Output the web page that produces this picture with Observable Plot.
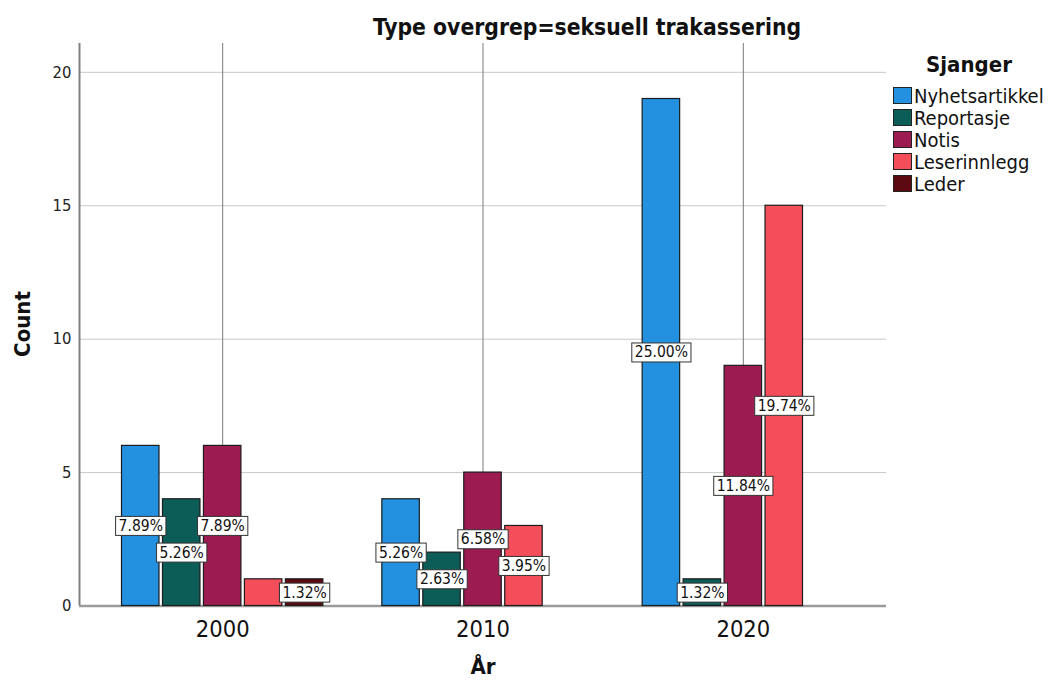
<!DOCTYPE html>
<html>
<head>
<meta charset="utf-8">
<script src="https://cdn.jsdelivr.net/npm/d3@7"></script>
<script src="https://cdn.jsdelivr.net/npm/@observablehq/plot@0.6"></script>
<style>
  html, body { margin: 0; padding: 0; background: #fff; }
  body { width: 1048px; height: 682px; overflow: hidden; position: relative;
         font-family: "DejaVu Sans Condensed", "DejaVu Sans", sans-serif; font-stretch: condensed; color: #111; }
  #chart { position: absolute; left: 0; top: 0; width: 1048px; height: 682px; }
  #chart svg { position: absolute; left: 0; top: 0; }
  .abs { position: absolute; white-space: nowrap; }
  .bold { font-weight: bold; }
  .sw { position: absolute; width: 17px; height: 15px; border: 1px solid #222; }
</style>
</head>
<body>
<div id="chart"></div>
<div class="abs bold" id="title" style="left:587px; top:14px; font-size:22.7px; transform:translateX(-50%);">Type overgrep=seksuell trakassering</div>
<div class="abs bold" id="ylab" style="left:22px; top:324px; font-size:22px; transform:translate(-50%,-50%) rotate(-90deg);">Count</div>
<div class="abs bold" id="xlab" style="left:483px; top:666px; font-size:22px; transform:translate(-50%,-50%);">År</div>
<div id="legend"></div>
<script>
// ---- data ----
const years = [2000, 2010, 2020];
const genres = ["Nyhetsartikkel", "Reportasje", "Notis", "Leserinnlegg", "Leder"];
const genreColors = ["#2390e0", "#0c5c58", "#9c1b50", "#f34e5a", "#5c0a12"];
// counts per genre, in the order of `years`
const nyhetsartikkel = [6, 4, 19];
const reportasje = [4, 2, 1];
const notis = [6, 5, 9];
const leserinnlegg = [1, 3, 15];
const leder = [1, 0, 0];
// percentage labels shown on the bars ("" = no label shown)
const nyhetsartikkelPct = ["7.89%", "5.26%", "25.00%"];
const reportasjePct = ["5.26%", "2.63%", "1.32%"];
const notisPct = ["7.89%", "6.58%", "11.84%"];
const leserinnleggPct = ["", "3.95%", "19.74%"];
const lederPct = ["1.32%", "", ""];
const yTicks = [0, 5, 10, 15, 20];
const yMax = 21.08;

const countsByGenre = [nyhetsartikkel, reportasje, notis, leserinnlegg, leder];
const pctByGenre = [nyhetsartikkelPct, reportasjePct, notisPct, leserinnleggPct, lederPct];
const table = [];
genres.forEach((g, gi) => years.forEach((y, yi) => {
  table.push({year: y, genre: g, count: countsByGenre[gi][yi], label: pctByGenre[gi][yi]});
}));

const W = 1048, H = 682;
const margins = {marginTop: 43, marginRight: 162, marginBottom: 76.5, marginLeft: 79};
const font = "'DejaVu Sans Condensed', 'DejaVu Sans', sans-serif";

// ---- background layer: grid, axes ----
const plotA = Plot.plot({
  width: W, height: H, ...margins,
  style: {fontFamily: font, fontStretch: "condensed", fontSize: "16.5px", color: "#222", background: "white"},
  x: {type: "linear", domain: [1994.5, 2025.5], axis: null},
  y: {domain: [0, yMax], ticks: yTicks, tickSize: 0, tickPadding: 8, label: null},
  marks: [
    Plot.ruleY(yTicks.filter(d => d > 0), {stroke: "#c8c8c8", strokeWidth: 1}),
    Plot.ruleX(years, {x: d => d, stroke: "#7a7a7a", strokeWidth: 1}),
    Plot.ruleX([1994.5], {x: d => d, stroke: "#808080", strokeWidth: 2}),
    Plot.ruleY([0], {stroke: "#9a9a9a", strokeWidth: 2.5}),
    Plot.text(years, {x: d => d, y: 0, dy: 23, text: d => String(d), fontSize: 23.5, fill: "#111"})
  ]
});

// ---- foreground layer: grouped bars ----
const plotB = Plot.plot({
  width: W, height: H, ...margins,
  style: {fontFamily: font, fontStretch: "condensed", fontSize: "15px", background: "transparent"},
  fx: {domain: years, paddingInner: 0, paddingOuter: 0.05, round: false, axis: null},
  x: {domain: genres, paddingInner: 0.085, paddingOuter: 0.72, round: false, axis: null},
  y: {domain: [0, yMax], axis: null},
  color: {domain: genres, range: genreColors},
  marks: [
    Plot.barY(table.filter(d => d.count > 0), {fx: "year", x: "genre", y: "count", fill: "genre", stroke: "#1c1c1c", strokeWidth: 1.2}),
    Plot.text(table.filter(d => d.label !== ""), {fx: "year", x: "genre", y: d => d.count / 2, text: "label", fill: "#111", fontSize: 15.5})
  ]
});

const chart = document.getElementById("chart");
chart.appendChild(plotA);
chart.appendChild(plotB);

// white boxes behind the percentage labels
plotB.querySelectorAll('g[aria-label="text"] text').forEach(t => {
  const bb = t.getBBox();
  const r = document.createElementNS("http://www.w3.org/2000/svg", "rect");
  r.setAttribute("x", bb.x - 3);
  r.setAttribute("y", bb.y - 0.5);
  r.setAttribute("width", bb.width + 6);
  r.setAttribute("height", bb.height + 1);
  r.setAttribute("fill", "white");
  r.setAttribute("stroke", "#333");
  r.setAttribute("stroke-width", 1);
  const tr = t.getAttribute("transform");
  if (tr) r.setAttribute("transform", tr);
  t.parentNode.insertBefore(r, t);
});

// legend
const legend = document.getElementById("legend");
const lt = document.createElement("div");
lt.className = "abs bold";
lt.style.cssText = "left:969px; top:64px; font-size:22px; transform:translate(-50%,-50%);";
lt.textContent = "Sjanger";
legend.appendChild(lt);
genres.forEach((g, i) => {
  const sw = document.createElement("div");
  sw.className = "sw";
  sw.style.left = "893px";
  sw.style.top = (87 + 22 * i) + "px";
  sw.style.background = genreColors[i];
  legend.appendChild(sw);
  const tx = document.createElement("div");
  tx.className = "abs";
  tx.style.cssText = `left:914px; top:${95.5 + 22 * i}px; font-size:20px; transform:translateY(-50%); line-height:1;`;
  tx.textContent = g;
  legend.appendChild(tx);
});
</script>
</body>
</html>
